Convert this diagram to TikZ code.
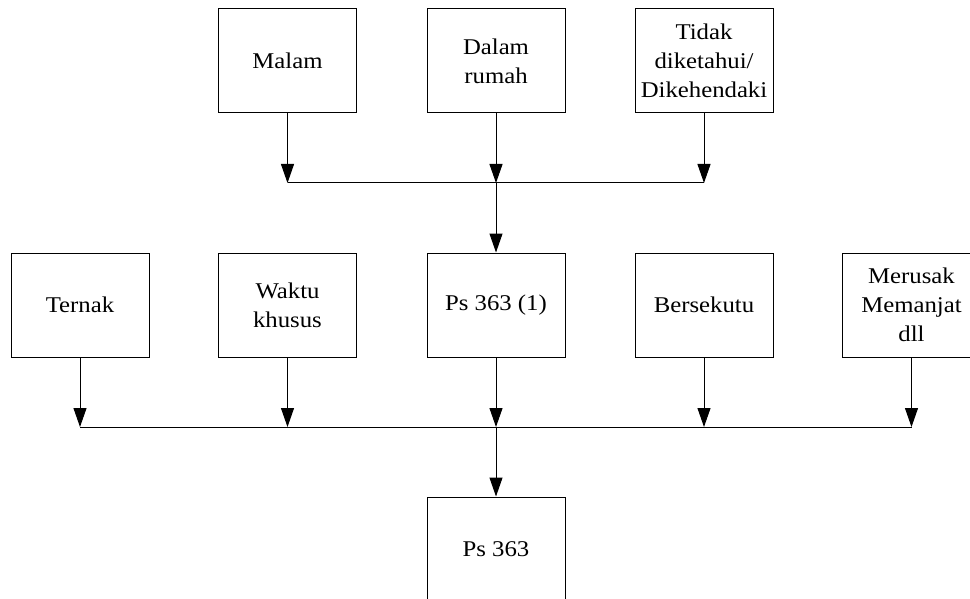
\documentclass[tikz,border=0pt]{standalone}
\usepackage{fontspec}
\setmainfont{Liberation Serif}[FakeStretch=1.1]
\usetikzlibrary{arrows.meta}
\begin{document}
\begin{tikzpicture}[x=1pt,y=-1pt,
  box/.style={draw,line width=1pt,minimum width=138pt,minimum height=104pt,inner sep=0pt,
    align=center,font=\fontsize{22.5}{29}\selectfont},
  arr/.style={line width=1pt,-{Triangle[length=19pt,width=13pt]}},
  ln/.style={line width=1pt}]
\useasboundingbox (0,0) rectangle (970,599);
\node[box] (malam) at (287.5,61) {Malam};
\node[box] (dalam) at (496,61) {Dalam\\rumah};
\node[box] (tidak) at (704,61) {Tidak\\diketahui/\\Dikehendaki};
\node[box] (ternak) at (80,305) {Ternak};
\node[box] (waktu) at (287.5,305) {Waktu\\khusus};
\node[box] (ps1) at (496,305) {Ps 363 (1)};
\node[box] (ber) at (704,305) {Bersekutu};
\node[box] (mer) at (911.5,305) {Merusak\\Memanjat\\dll};
\node[box] (ps) at (496,549) {Ps 363};
\coordinate (bus1) at (496,183);
\coordinate (bus2) at (496,427);
\draw[arr] (malam.south) -- (malam.south |- bus1);
\draw[arr] (dalam.south) -- (bus1);
\draw[arr] (tidak.south) -- (tidak.south |- bus1);
\draw[ln] (malam.south |- bus1) -- (tidak.south |- bus1);
\draw[arr] (bus1) -- (ps1.north);
\draw[arr] (ternak.south) -- (ternak.south |- bus2);
\draw[arr] (waktu.south) -- (waktu.south |- bus2);
\draw[arr] (ps1.south) -- (bus2);
\draw[arr] (ber.south) -- (ber.south |- bus2);
\draw[arr] (mer.south) -- (mer.south |- bus2);
\draw[ln] (ternak.south |- bus2) -- (mer.south |- bus2);
\draw[arr] (bus2) -- (ps.north);
\end{tikzpicture}
\end{document}
